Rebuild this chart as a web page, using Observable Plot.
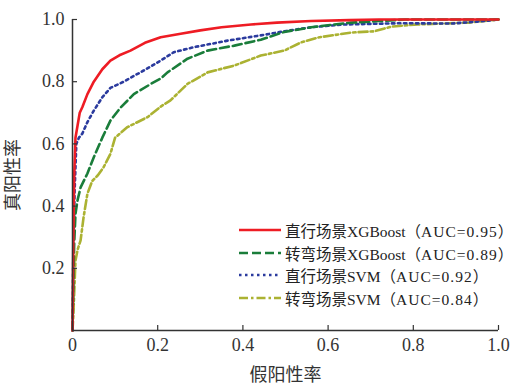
<!DOCTYPE html>
<html><head><meta charset="utf-8">
<script src="https://cdn.jsdelivr.net/npm/d3@7"></script>
<script src="https://cdn.jsdelivr.net/npm/@observablehq/plot@0.6"></script>
<style>
body{margin:0;background:#fff;}
#wrap{position:relative;width:512px;height:385px;font-family:"Liberation Serif","Noto Sans CJK SC",serif;}
#legend{position:absolute;left:239px;top:219px;width:268px;font-size:15.5px;color:#222;}
#legend .row{display:flex;align-items:center;height:22.5px;white-space:nowrap;}
#legend svg{margin-right:4px;flex:none;}
#legend .auc{letter-spacing:1px;}
</style></head>
<body><div id="wrap"><div id="chart"></div><div id="legend"></div></div>
<script>
const seriesNames = ["直行场景XGBoost","转弯场景XGBoost","直行场景SVM","转弯场景SVM"];
const aucLabels = ["（AUC=0.95）","（AUC=0.89）","（AUC=0.92）","（AUC=0.84）"];
const colors = ["#ee1c24","#1a7d3a","#2b3b9e","#abb232"];
const dashes = [null,"9,4","2.5,3.5","9,3,2.5,3"];

const redFpr = [0,0.002,0.004,0.007,0.012,0.017,0.023,0.035,0.05,0.07,0.089,0.11,0.136,0.17,0.207,0.254,0.30,0.35,0.419,0.48,0.56,0.65,0.72,1.0];
const redTpr = [0,0.30,0.50,0.62,0.66,0.70,0.718,0.76,0.80,0.84,0.868,0.885,0.90,0.925,0.943,0.954,0.965,0.975,0.984,0.99,0.995,0.998,1.0,1.0];

const grnFpr = [0,0.002,0.004,0.007,0.012,0.019,0.035,0.05,0.07,0.089,0.113,0.144,0.184,0.207,0.223,0.27,0.317,0.38,0.442,0.497,0.56,0.654,0.72,0.78,1.0];
const grnTpr = [0,0.15,0.28,0.375,0.42,0.46,0.505,0.557,0.62,0.675,0.717,0.76,0.793,0.81,0.83,0.874,0.90,0.916,0.935,0.96,0.975,0.99,0.995,1.0,1.0];

const bluFpr = [0,0.002,0.005,0.009,0.015,0.023,0.035,0.05,0.07,0.089,0.12,0.167,0.207,0.238,0.285,0.364,0.442,0.497,0.56,0.638,0.77,0.89,0.95,1.0];
const bluTpr = [0,0.25,0.45,0.60,0.62,0.633,0.67,0.707,0.75,0.78,0.80,0.836,0.868,0.895,0.911,0.932,0.949,0.962,0.975,0.984,0.988,0.987,0.993,1.0];

const ylwFpr = [0,0.002,0.004,0.007,0.012,0.019,0.026,0.035,0.046,0.06,0.073,0.089,0.10,0.129,0.176,0.207,0.23,0.27,0.317,0.38,0.442,0.497,0.536,0.576,0.654,0.708,0.748,0.81,0.93,1.0];
const ylwTpr = [0,0.05,0.12,0.225,0.26,0.29,0.364,0.44,0.48,0.50,0.525,0.568,0.62,0.654,0.686,0.72,0.74,0.793,0.83,0.852,0.884,0.90,0.926,0.942,0.958,0.962,0.977,0.984,0.99,1.0];

const xTicks = [0,0.2,0.4,0.6,0.8,1.0];
const yTicks = [0.2,0.4,0.6,0.8,1.0];
const xTickLabels = ["0","0.2","0.4","0.6","0.8","1.0"];
const yTickLabels = ["0.2","0.4","0.6","0.8","1.0"];

const fprs = [redFpr,grnFpr,bluFpr,ylwFpr];
const tprs = [redTpr,grnTpr,bluTpr,ylwTpr];
const data = [];
fprs.forEach((f,i)=>f.forEach((x,j)=>data.push({s:seriesNames[i],x,y:tprs[i][j]})));

const font = `"Liberation Serif","Noto Sans CJK SC",serif`;
const chart = Plot.plot({
  width:512,height:385,
  marginLeft:72,marginRight:14,marginTop:19,marginBottom:55,
  style:{fontFamily:font,fontSize:"18px",color:"#333",background:"#fff"},
  x:{domain:[0,1]},
  y:{domain:[0,1]},
  marks:[
    Plot.axisX({ticks:xTicks,tickFormat:(d,i)=>xTickLabels[i],tickSize:-5,tickPadding:13,stroke:"#333",strokeWidth:1.2,
      label:"假阳性率",labelAnchor:"center",labelArrow:"none",labelOffset:50,fontSize:18}),
    Plot.axisY({ticks:yTicks,tickFormat:(d,i)=>yTickLabels[i],tickSize:-5,tickPadding:13,stroke:"#333",strokeWidth:1.2,
      label:"真阳性率",labelAnchor:"center",labelArrow:"none",labelOffset:66,fontSize:18}),
    Plot.ruleX([0],{stroke:"#333",strokeWidth:1.5}),
    Plot.ruleY([0],{stroke:"#333",strokeWidth:1.5}),
    ...seriesNames.map((n,i)=>Plot.line(data.filter(d=>d.s===n),{x:"x",y:"y",stroke:colors[i],strokeWidth:2.6,strokeDasharray:dashes[i]}))
  ].reverse()
});
document.getElementById("chart").append(chart);

const leg = document.getElementById("legend");
seriesNames.forEach((n,i)=>{
  const row = document.createElement("div"); row.className="row";
  row.innerHTML = `<svg width="42" height="6"><line x1="0" y1="3" x2="42" y2="3" stroke="${colors[i]}" stroke-width="2.6" ${dashes[i]?`stroke-dasharray="${dashes[i]}"`:""}/></svg><span>${n}${aucLabels[i].replace(/^(（)(.*)(）)$/,'$1<span class="auc">$2</span>$3')}</span>`;
  leg.append(row);
});
</script></body></html>
